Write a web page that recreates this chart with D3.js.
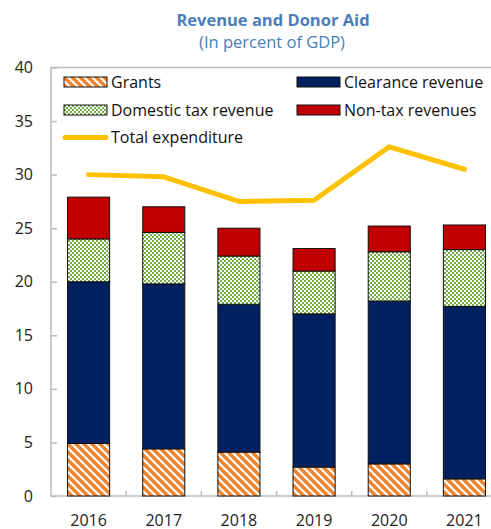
<!DOCTYPE html>
<html>
<head>
<meta charset="utf-8">
<script src="https://cdn.jsdelivr.net/npm/d3@7"></script>
<style>
  body { margin: 0; background: #fff; }
  text { font-family: "Open Sans", "Noto Sans", sans-serif; }
</style>
</head>
<body>
<div id="chart"></div>
<script>
// values, percent of GDP
var years = ["2016", "2017", "2018", "2019", "2020", "2021"];
var grants = [4.9, 4.4, 4.1, 2.7, 3.0, 1.6];
var clearance = [15.1, 15.4, 13.8, 14.3, 15.2, 16.1];
var domesticTax = [4.0, 4.8, 4.5, 4.0, 4.6, 5.3];
var nonTax = [3.9, 2.4, 2.6, 2.1, 2.4, 2.3];
var expenditure = [30.0, 29.8, 27.5, 27.6, 32.6, 30.5];
var yTicks = [0, 5, 10, 15, 20, 25, 30, 35, 40];

var width = 491, height = 529;
var plotLeft = 51, plotRight = 502, plotTop = 67.5, plotBottom = 496;

var svg = d3.select("#chart").append("svg")
    .attr("width", width)
    .attr("height", height);

var defs = svg.append("defs");

// wide downward diagonal, orange on white
var pg = defs.append("pattern")
    .attr("id", "grantsFill")
    .attr("patternUnits", "userSpaceOnUse")
    .attr("width", 8).attr("height", 8);
pg.append("rect").attr("width", 8).attr("height", 8).attr("fill", "#fff");
pg.append("path")
    .attr("d", "M-2,-2L10,10M-6,2L2,10M6,-2L10,2")
    .attr("stroke", "#f0842c")
    .attr("stroke-width", 3.4);

// small checker, green on white
var pd = defs.append("pattern")
    .attr("id", "domFill")
    .attr("patternUnits", "userSpaceOnUse")
    .attr("width", 4).attr("height", 4);
pd.append("rect").attr("width", 4).attr("height", 4).attr("fill", "#fff");
pd.append("rect").attr("width", 2).attr("height", 2).attr("fill", "#70ad47");
pd.append("rect").attr("x", 2).attr("y", 2).attr("width", 2).attr("height", 2).attr("fill", "#70ad47");

var x = d3.scaleBand()
    .domain(years)
    .range([plotLeft, plotRight])
    .paddingInner(0.44)
    .paddingOuter(0.22);

var y = d3.scaleLinear()
    .domain([0, 40])
    .range([plotBottom, plotTop]);

// title
svg.append("text")
    .attr("x", 273).attr("y", 26)
    .attr("text-anchor", "middle")
    .attr("font-size", "16.5px")
    .attr("font-weight", "bold")
    .attr("fill", "#4a7ebb")
    .text("Revenue and Donor Aid");
svg.append("text")
    .attr("x", 272).attr("y", 48)
    .attr("text-anchor", "middle")
    .attr("font-size", "16.5px")
    .attr("fill", "#4a7ebb")
    .text("(In percent of GDP)");

// plot area frame
svg.append("rect")
    .attr("x", plotLeft).attr("y", plotTop)
    .attr("width", plotRight - plotLeft).attr("height", plotBottom - plotTop)
    .attr("fill", "none")
    .attr("stroke", "#bcbcbc")
    .attr("stroke-width", 1.5);

// stacked bars
var seriesDefs = [
  {key: "grants", fill: "url(#grantsFill)"},
  {key: "clearance", fill: "#002060"},
  {key: "domesticTax", fill: "url(#domFill)"},
  {key: "nonTax", fill: "#c00000"}
];
var rows = years.map(function(yr, i) {
  return {year: yr, grants: grants[i], clearance: clearance[i],
          domesticTax: domesticTax[i], nonTax: nonTax[i]};
});
var stacked = d3.stack().keys(seriesDefs.map(function(s) { return s.key; }))(rows);

svg.append("g").selectAll("g")
  .data(stacked)
  .enter().append("g")
    .attr("fill", function(d, i) { return seriesDefs[i].fill; })
  .selectAll("rect")
  .data(function(d) { return d; })
  .enter().append("rect")
    .attr("x", function(d) { return x(d.data.year); })
    .attr("y", function(d) { return y(d[1]); })
    .attr("width", x.bandwidth())
    .attr("height", function(d) { return y(d[0]) - y(d[1]); })
    .attr("stroke", "#111")
    .attr("stroke-width", 1);

// axes
var yAxis = svg.append("g")
    .attr("transform", "translate(" + plotLeft + ",0)")
    .call(d3.axisRight(y).tickValues(yTicks).tickSize(6).tickFormat(""));
yAxis.selectAll("line").attr("stroke", "#bcbcbc").attr("stroke-width", 1.5);
yAxis.select(".domain").remove();

svg.append("g").selectAll("text")
  .data(yTicks)
  .enter().append("text")
    .attr("x", 33)
    .attr("y", function(d) { return y(d); })
    .attr("dy", "0.35em")
    .attr("text-anchor", "end")
    .attr("font-size", "16px")
    .attr("fill", "#222")
    .text(function(d) { return d; });

var bounds = years.slice(1).map(function(yr) { return x(yr) - x.step() * x.paddingInner() / 2; });
svg.append("g").selectAll("line")
  .data(bounds)
  .enter().append("line")
    .attr("x1", function(d) { return d; }).attr("x2", function(d) { return d; })
    .attr("y1", plotBottom).attr("y2", plotBottom - 5)
    .attr("stroke", "#bcbcbc").attr("stroke-width", 1.5);

svg.append("g").selectAll("text")
  .data(years)
  .enter().append("text")
    .attr("x", function(d) { return x(d) + x.bandwidth() / 2; })
    .attr("y", 526)
    .attr("text-anchor", "middle")
    .attr("font-size", "16px")
    .attr("fill", "#222")
    .text(function(d) { return d; });

// expenditure line
var line = d3.line()
    .x(function(d, i) { return x(years[i]) + x.bandwidth() / 2; })
    .y(function(d) { return y(d); });

svg.append("path")
    .datum(expenditure)
    .attr("d", line)
    .attr("fill", "none")
    .attr("stroke", "#ffc000")
    .attr("stroke-width", 5)
    .attr("stroke-linejoin", "round")
    .attr("stroke-linecap", "round");

// legend
var legend = [
  {label: "Grants", fill: "url(#grantsFill)", x: 64, y: 77},
  {label: "Clearance revenue", fill: "#002060", x: 297, y: 77},
  {label: "Domestic tax revenue", fill: "url(#domFill)", x: 64, y: 105},
  {label: "Non-tax revenues", fill: "#c00000", x: 297, y: 105}
];
var lg = svg.append("g").selectAll("g")
  .data(legend)
  .enter().append("g")
    .attr("transform", function(d) { return "translate(" + d.x + "," + d.y + ")"; });
lg.append("rect")
    .attr("width", 43).attr("height", 10)
    .attr("fill", function(d) { return d.fill; })
    .attr("stroke", "#111").attr("stroke-width", 1);
lg.append("text")
    .attr("x", 47).attr("y", 5)
    .attr("dy", "0.35em")
    .attr("font-size", "16px")
    .attr("fill", "#111")
    .text(function(d) { return d.label; });

svg.append("line")
    .attr("x1", 65).attr("x2", 106)
    .attr("y1", 137.5).attr("y2", 137.5)
    .attr("stroke", "#ffc000").attr("stroke-width", 5)
    .attr("stroke-linecap", "round");
svg.append("text")
    .attr("x", 111).attr("y", 137.5)
    .attr("dy", "0.35em")
    .attr("font-size", "16px")
    .attr("fill", "#111")
    .text("Total expenditure");
</script>
</body>
</html>
